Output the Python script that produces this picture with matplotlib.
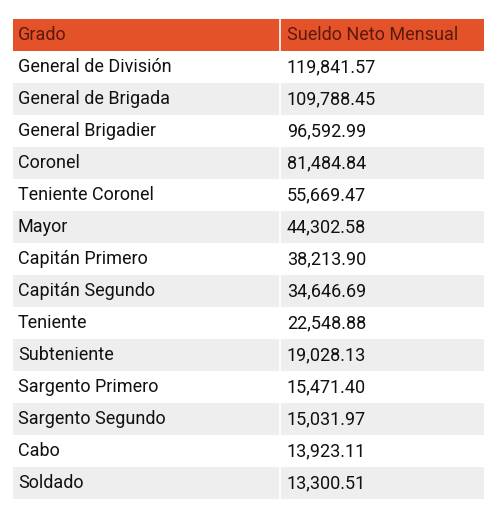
import matplotlib.pyplot as plt
from matplotlib.patches import Rectangle

headers = ["Grado", "Sueldo Neto Mensual"]
grados = ["General de División", "General de Brigada", "General Brigadier", "Coronel",
          "Teniente Coronel", "Mayor", "Capitán Primero", "Capitán Segundo", "Teniente",
          "Subteniente", "Sargento Primero", "Sargento Segundo", "Cabo", "Soldado"]
sueldos = [119841.57, 109788.45, 96592.99, 81484.84, 55669.47, 44302.58, 38213.90,
           34646.69, 22548.88, 19028.13, 15471.40, 15031.97, 13923.11, 13300.51]

W, H = 485, 517
fig = plt.figure(figsize=(W / 100, H / 100), dpi=100)
ax = fig.add_axes([0, 0, 1, 1])
ax.set_xlim(0, W)
ax.set_ylim(H, 0)
ax.axis("off")

x0, x1, xdiv = 13, 485, 280
top, hh, rh = 19, 32, 32
font = "Roboto"
fs = 13

# header
ax.add_patch(Rectangle((x0, top), x1 - x0, hh, color="#E4522A", lw=0))
for x, t in zip([18, 287], headers):
    ax.text(x, top + hh / 2, t, va="center", ha="left", fontsize=fs,
            color="#5C1A0C", family=font)

for i, (g, s) in enumerate(zip(grados, sueldos)):
    y = top + hh + i * rh
    c = "#FFFFFF" if i % 2 == 0 else "#EEEEEE"
    ax.add_patch(Rectangle((x0, y), x1 - x0, rh, color=c, lw=0))
    ax.text(18, y + rh / 2, g, va="center", ha="left", fontsize=fs,
            color="#111111", family=font)
    ax.text(287, y + rh / 2, f"{s:,.2f}", va="center", ha="left", fontsize=fs,
            color="#111111", family=font)

ax.plot([xdiv, xdiv], [top, top + hh + len(grados) * rh], color="white", lw=1.2)

fig.savefig("out.png", dpi=100)
